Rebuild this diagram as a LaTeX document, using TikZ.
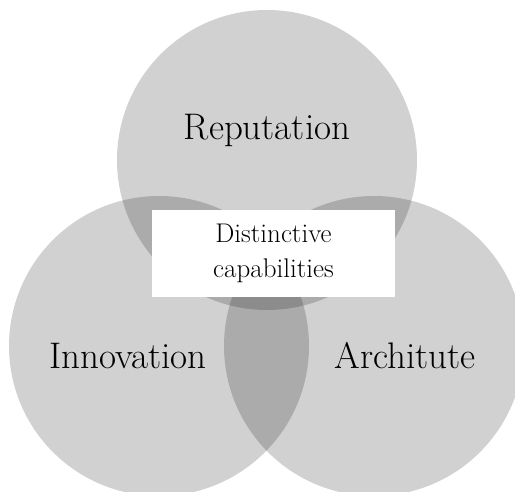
\documentclass[tikz,border=0pt]{standalone}
\usepackage{tikz}

\tikzset{
  setdisc/.style={fill=black, opacity=0.18},
  setlabel/.style={font=\fontsize{37}{44}\selectfont},
  corebox/.style={fill=white, minimum width=243pt, minimum height=87pt,
    align=center, inner sep=0pt, font=\fontsize{27}{35}\selectfont}
}

\begin{document}
\begin{tikzpicture}[x=1pt,y=1pt]
	\useasboundingbox (0,0) rectangle (515,492);
	% the three circles
	\fill[setdisc] (267,332) circle[radius=150pt];
	\fill[setdisc] (159,146) circle[radius=150pt];
	\fill[setdisc] (374,146) circle[radius=150pt];
	
	\node[corebox] (core) at (273.5,238.5) {Distinctive\\capabilities};
	
	\node[setlabel] (rep) at (267,362) {Reputation};
	\node[setlabel] (inn) at (128,136) {Innovation};
	\node[setlabel] (arc) at (405,136) {Architute};
\end{tikzpicture}
\end{document}
